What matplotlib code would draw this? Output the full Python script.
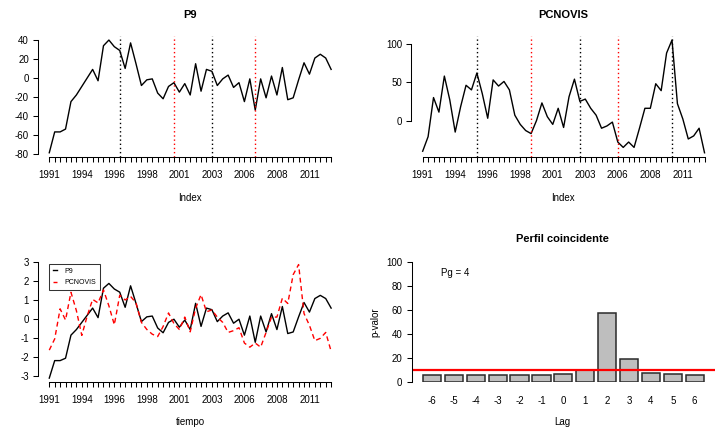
import numpy as np
import matplotlib
matplotlib.use('Agg')
import matplotlib.pyplot as plt

plt.rcParams['font.family'] = ['Liberation Sans', 'DejaVu Sans']
plt.rcParams['axes.unicode_minus'] = False

# ---------------- data ----------------
p9 = [-79, -57, -57, -54, -25, -18, -9, 0, 9, -3,
      34, 40, 33, 29, 10, 37, 15, -8, -2, -1,
      -16, -22, -9, -5, -15, -6, -18, 15, -14, 9,
      7, -8, -1, 3, -10, -5, -25, -1, -34, -1,
      -21, 2, -18, 11, -23, -21, -2, 16, 4, 21,
      25, 21, 9]
pcnovis = [-40, -21, 30, 11, 58, 27, -15, 18, 46, 40,
           62, 35, 3, 53, 45, 51, 40, 7, -5, -13,
           -17, 0, 23, 5, -5, 16, -9, 31, 54, 25,
           28, 16, 7, -10, -7, -2, -28, -35, -28, -35,
           -10, 16, 16, 48, 39, 88, 105, 22, 2, -24,
           -20, -10, -42]
year_labels = ['1991', '1994', '1996', '1998', '2001', '2003', '2006', '2008', '2011']
label_step = 6
p9_peaks = [13, 30]
p9_troughs = [23, 38]
pc_peaks = [10, 29, 46]
pc_troughs = [20, 36]
lags = [-6, -5, -4, -3, -2, -1, 0, 1, 2, 3, 4, 5, 6]
pvalues = [5.8, 5.8, 5.8, 5.8, 5.8, 5.8, 6.6, 10.2, 57.2, 19.0, 8.0, 6.6, 5.8]
threshold = 10
pg_text = 'Pg = 4'

n = len(p9)
x = np.arange(n)

W, H = 719, 438
fig = plt.figure(figsize=(W / 100, H / 100), dpi=100)


def axpos(l, r, t, b):
    return [l / W, 1 - b / H, (r - l) / W, (b - t) / H]


def ftext(xp, yp, s, **kw):
    fig.text(xp / W, 1 - yp / H, s, ha='center', va='center', **kw)


def style_ts(ax, ylim, yticks):
    ax.set_xlim(-0.04 * (n - 1), (n - 1) * 1.04)
    ax.set_ylim(*ylim)
    for s in ['top', 'right']:
        ax.spines[s].set_visible(False)
    for s in ['left', 'bottom']:
        ax.spines[s].set_linewidth(0.75)
    ax.spines['left'].set_bounds(yticks[0], yticks[-1])
    ax.spines['bottom'].set_bounds(0, n - 1)
    ax.set_yticks(yticks)
    ax.set_xticks(range(n))
    labs = [''] * n
    for k, lab in enumerate(year_labels):
        labs[k * label_step] = lab
    ax.set_xticklabels(labs)
    ax.tick_params(axis='x', length=3.6, width=0.75, pad=5.5, labelsize=7)
    ax.tick_params(axis='y', length=3.6, width=0.75, pad=3, labelsize=7)
    ax.patch.set_alpha(0)


dot = (0, (1, 2))

# Panel 1: P9
ax1 = fig.add_axes(axpos(38.0, 342.4, 35.5, 157.3))
ax1.plot(x, p9, color='black', lw=1.0)
for v in p9_peaks:
    ax1.axvline(v, color='black', lw=1.0, ls=dot)
for v in p9_troughs:
    ax1.axvline(v, color='red', lw=1.0, ls=dot)
style_ts(ax1, (-83.8, 44.8), [-80, -60, -40, -20, 0, 20, 40])
ftext(190, 14.5, 'P9', fontsize=8, fontweight='bold')
ftext(190, 198, 'Index', fontsize=7)

# Panel 2: PCNOVIS
ax2 = fig.add_axes(axpos(411.4, 715.8, 35.5, 157.3))
ax2.plot(x, pcnovis, color='black', lw=1.0)
for v in pc_peaks:
    ax2.axvline(v, color='black', lw=1.0, ls=dot)
for v in pc_troughs:
    ax2.axvline(v, color='red', lw=1.0, ls=dot)
style_ts(ax2, (-47.9, 110.9), [0, 50, 100])
ftext(563, 15, 'PCNOVIS', fontsize=8, fontweight='bold')
ftext(563, 198, 'Index', fontsize=7)

# Panel 3: standardized series
p9a = np.array(p9, dtype=float)
pca = np.array(pcnovis, dtype=float)
p9z = (p9a - p9a.mean()) / p9a.std(ddof=1)
pcz = (pca - pca.mean()) / pca.std(ddof=1)
ax3 = fig.add_axes(axpos(38.0, 342.4, 260.5, 382.3))
ax3.plot(x, p9z, color='black', lw=1.0, label='P9')
ax3.plot(x, pcz, color='red', lw=1.0, ls=(0, (3.5, 2.5)), label='PCNOVIS')
style_ts(ax3, (-3.33, 3.06), [-3, -2, -1, 0, 1, 2, 3])
ftext(190, 421.7, 'tiempo', fontsize=7)
leg = ax3.legend(loc='upper left', bbox_to_anchor=(49.3 / W, 1 - 264 / H),
                 bbox_transform=fig.transFigure, fontsize=5, frameon=True,
                 fancybox=False, edgecolor='black', handlelength=0.6,
                 handletextpad=1.0, borderpad=0.55, labelspacing=0.6,
                 borderaxespad=0)
leg.get_frame().set_linewidth(0.75)

# Panel 4: bar chart
ax4 = fig.add_axes(axpos(411.6, 715.0, 261.7, 382.3))
centers = 0.7 + 1.2 * np.arange(len(lags))
ax4.bar(centers, pvalues, width=1.0, color='#BEBEBE', edgecolor='#2a2a2a', lw=1.1)
ax4.axhline(threshold, color='red', lw=1.6)
ax4.set_xlim(0.2 - 0.04 * 15.4, 15.6 + 0.04 * 15.4)
ax4.set_ylim(0, 100)
for s in ['top', 'right', 'bottom']:
    ax4.spines[s].set_visible(False)
ax4.spines['left'].set_linewidth(0.75)
ax4.spines['left'].set_bounds(0, 100)
ax4.set_yticks([0, 20, 40, 60, 80, 100])
ax4.set_xticks(centers)
ax4.set_xticklabels([str(l) for l in lags])
ax4.tick_params(axis='x', length=0, pad=10, labelsize=7)
ax4.tick_params(axis='y', length=3.6, width=0.75, pad=3, labelsize=7)
ax4.patch.set_alpha(0)
ax4.text(2.0, 91, pg_text, ha='center', va='center', fontsize=7)
ftext(562, 239, 'Perfil coincidente', fontsize=8, fontweight='bold')
ftext(562, 421.7, 'Lag', fontsize=7)
fig.text(375 / W, 1 - 322 / H, 'p-valor', rotation=90, ha='center', va='center', fontsize=7)

fig.savefig('out.png', dpi=100)
